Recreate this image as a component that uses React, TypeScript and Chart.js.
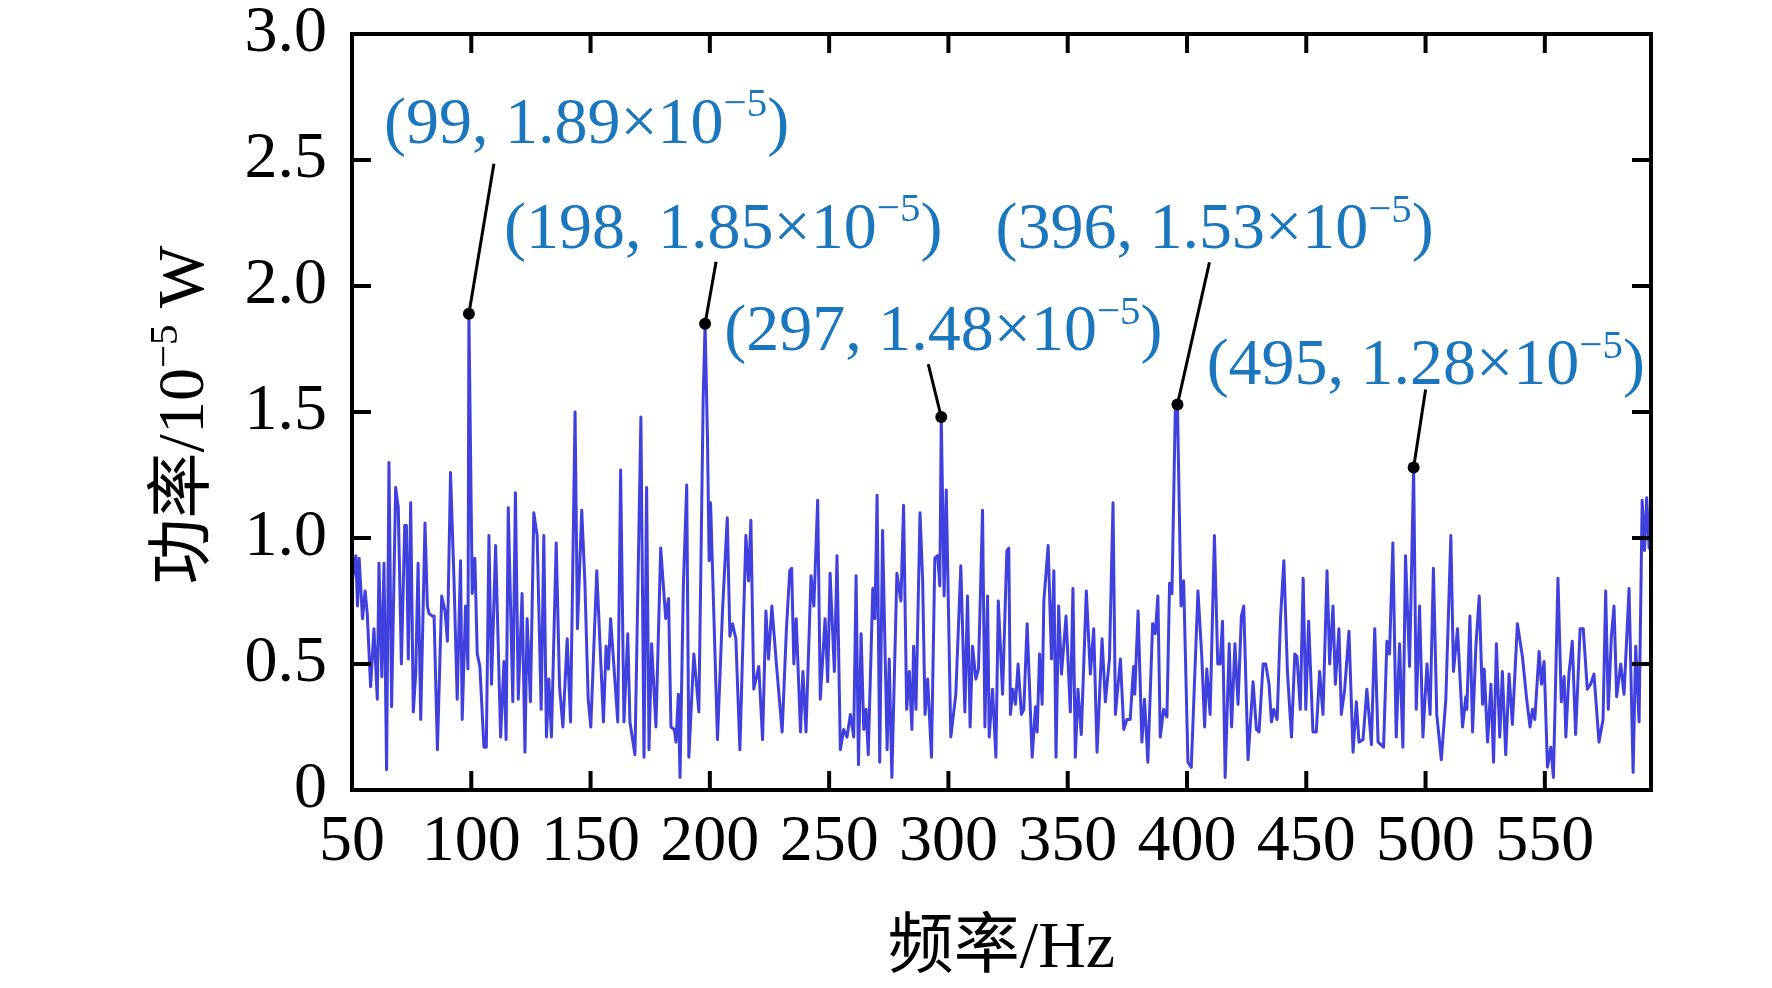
import { useEffect, useRef } from 'react';
import { Chart, registerables } from 'chart.js';

Chart.register(...registerables);

// ---- data ----
const freq = [
  50.3, 51.6, 52.3, 53.0, 54.4, 55.5, 56.4, 57.8, 59.2, 60.6, 61.3, 62.5, 63.4, 64.5, 65.5, 66.6, 68.3, 69.4, 70.7, 72.1,
  72.8, 73.6, 74.6, 75.7, 76.7, 77.7, 78.8, 80.6, 81.6, 82.3, 83.7, 84.4, 85.8, 87.6, 89.0, 90.0, 91.3, 92.7, 94.1, 95.5,
  96.2, 97.6, 98.6, 99.0, 100.4, 101.5, 102.5, 103.6, 105.3, 106.3, 107.4, 108.5, 110.2, 112.3, 113.7, 114.6, 115.5, 117.4, 118.5, 119.7,
  121.3, 122.5, 123.4, 124.8, 126.2, 127.6, 129.3, 130.4, 131.5, 132.5, 133.6, 135.6, 137.0, 138.4, 140.2, 141.6,
  143.5, 144.5, 146.3, 147.6, 149.0, 150.1, 152.6, 155.4, 156.5, 157.5, 158.4, 161.4, 162.6, 164.0, 165.6, 166.5, 168.6, 171.1,
  172.4, 173.5, 174.5, 175.6, 177.4, 179.4, 181.5, 182.7, 183.7, 185.1, 185.8, 186.8, 187.5, 188.9, 190.3, 191.2, 193.3, 195.4,
  197.2, 198.0, 199.0, 199.7, 200.3, 203.2, 205.3, 207.3, 208.4, 209.5, 210.9, 212.6, 215.1, 216.2, 217.2, 218.4, 220.5, 222.1,
  223.5, 224.6, 226.0, 227.9, 230.3, 232.1, 233.5,
  234.3, 235.2, 236.2, 238.0, 239.0, 240.3, 242.4, 243.6, 245.2, 246.3, 248.3, 249.4, 250.4, 252.2, 253.3, 254.7, 256.1, 257.5,
  258.9, 260.3, 261.3, 262.3, 263.4, 264.5, 265.5, 266.4, 268.3, 269.2, 270.1, 271.2, 272.4, 274.3, 275.2, 276.3, 278.4, 280.1,
  281.2, 282.5, 283.6, 284.7, 285.4, 286.4, 288.1, 289.2, 290.2, 291.3, 292.9, 294.3, 295.5, 296.4, 297.0, 298.2, 299.1, 301.0,
  303.1, 305.2, 306.9, 308.0, 309.1, 310.1, 311.5, 312.6, 314.3, 315.3, 316.4, 317.1, 318.5, 319.9, 320.9, 322.7, 324.5,
  325.3, 326.0, 327.0, 328.1, 329.2, 330.6, 331.6, 333.0, 335.1, 336.5, 337.2, 338.2, 339.3, 340.0, 341.8, 343.2, 344.2, 345.1,
  346.2, 347.4, 349.3, 351.1, 352.2, 353.2, 354.3, 355.7, 357.8, 359.5, 360.9, 362.3, 364.4, 365.8, 367.5, 369.0, 370.0, 372.1,
  373.5, 374.8, 376.2, 377.6, 378.1, 379.5, 381.1, 382.2, 383.6, 385.6, 386.7, 387.8, 388.8, 390.2, 391.6, 392.7, 393.7, 395.1,
  396.0, 397.5, 398.6, 400.4, 401.8, 404.6, 406.2, 407.4, 408.3, 409.7, 411.5, 412.9, 413.9, 414.9, 416.0,
  417.7, 418.7, 420.1, 421.4, 422.8, 423.8, 425.6, 427.7, 429.1, 430.2, 431.9, 433.0, 434.4, 435.4, 436.4, 437.8, 439.2, 440.6,
  442.1, 443.8, 445.2, 446.1, 447.5, 448.7, 449.8, 451.0, 452.8, 454.2, 455.6, 457.0, 458.7, 459.8, 461.2, 462.2, 463.7, 464.7,
  466.1, 467.9, 469.6, 471.0, 472.1, 473.8, 475.4, 477.3, 478.7, 480.1, 482.4, 483.8, 484.9, 486.3, 487.7, 489.1, 490.5, 491.6,
  493.3, 495.0, 496.1, 497.5, 498.9, 500.6, 501.9, 503.3, 504.7, 506.6,
  508.5, 510.6, 511.7, 513.4, 515.5, 516.9, 517.3, 518.6, 519.7, 521.1, 522.5, 523.9, 524.6, 526.0, 527.4, 528.5, 529.7, 531.1,
  532.2, 533.6, 535.0, 536.4, 538.5, 540.6, 542.4, 543.8, 544.8, 545.8, 547.6, 548.6, 549.7, 551.1, 552.5, 553.6, 555.5, 556.9,
  558.1, 558.8, 560.1, 561.5, 562.9, 564.8, 566.1, 567.8, 569.2, 570.6, 572.7, 574.4, 575.5, 576.6, 577.9, 579.0, 580.1, 581.8,
  583.2, 585.3, 587.0, 588.1, 589.5, 590.8, 591.8, 592.7, 593.7, 594.4,
];

const power = [
  0.84, 0.93, 0.73, 0.92, 0.68, 0.79, 0.70, 0.41, 0.64, 0.36, 0.90, 0.45, 0.90, 0.08, 1.30, 0.33, 1.20, 1.12, 0.50, 1.05,
  1.05, 0.52, 1.14, 0.31, 0.46, 0.90, 0.28, 1.06, 0.73, 0.70, 0.69, 0.69, 0.16, 0.77, 0.71, 0.59, 1.26, 0.85, 0.36, 0.91,
  0.28, 0.73, 0.48, 1.89, 0.78, 0.92, 0.54, 0.49, 0.17, 0.17, 1.01, 0.42, 0.97, 0.21, 0.51, 0.20, 1.12, 0.35, 1.18, 0.36,
  0.78, 0.15, 0.68, 0.35, 1.10, 1.01, 0.32, 1.01, 0.21, 0.44, 0.21, 0.98, 0.41, 0.25, 0.60, 0.27,
  1.50, 0.64, 1.11, 0.83, 0.36, 0.25, 0.87, 0.27, 0.57, 0.48, 0.68, 0.27, 1.27, 0.27, 0.62, 0.27, 0.14, 1.48,
  0.13, 1.20, 0.16, 0.58, 0.25, 0.96, 0.68, 0.76, 0.25, 0.24, 0.19, 0.38, 0.05, 0.81, 1.21, 0.13, 0.54, 0.31,
  1.55, 1.85, 1.40, 0.91, 1.14, 0.20, 0.71, 1.08, 0.61, 0.66, 0.60, 0.16, 1.01, 0.83, 1.07, 0.40, 0.49, 0.20,
  0.71, 0.52, 0.73, 0.50, 0.23, 0.64, 0.87,
  0.88, 0.50, 0.68, 0.23, 0.47, 0.23, 0.85, 0.73, 1.15, 0.36, 0.68, 0.43, 0.86, 0.47, 0.93, 0.16, 0.24, 0.21,
  0.30, 0.21, 0.85, 0.10, 0.62, 0.24, 0.32, 0.14, 0.80, 0.68, 1.17, 0.11, 1.03, 0.16, 0.52, 0.05, 0.86, 0.75,
  1.13, 0.32, 0.47, 0.24, 0.57, 0.32, 1.10, 0.83, 0.30, 0.44, 0.13, 0.92, 0.93, 0.81, 1.48, 0.77, 1.19, 0.21,
  0.38, 0.89, 0.31, 0.77, 0.25, 0.57, 0.44, 0.48, 1.11, 0.25, 0.77, 0.21, 0.40, 0.13, 0.75, 0.38, 0.95,
  0.96, 0.30, 0.40, 0.34, 0.50, 0.30, 0.32, 0.66, 0.13, 0.33, 0.23, 0.54, 0.34, 0.75, 0.97, 0.52, 0.87, 0.13,
  0.73, 0.46, 0.69, 0.31, 0.80, 0.13, 0.40, 0.22, 0.79, 0.46, 0.64, 0.15, 0.60, 0.35, 0.52, 1.14, 0.30, 0.52,
  0.24, 0.28, 0.28, 0.49, 0.38, 0.71, 0.19, 0.36, 0.11, 0.66, 0.62, 0.77, 0.21, 0.32, 0.29, 0.82, 0.78, 1.51,
  1.53, 0.73, 0.83, 0.11, 0.09, 0.79, 0.53, 0.25, 0.48, 0.30, 1.01, 0.50, 0.50, 0.67, 0.05,
  0.58, 0.25, 0.58, 0.34, 0.69, 0.73, 0.12, 0.43, 0.24, 0.23, 0.50, 0.50, 0.42, 0.27, 0.32, 0.28, 0.68, 0.91,
  0.47, 0.21, 0.54, 0.53, 0.32, 0.84, 0.32, 0.67, 0.23, 0.23, 0.47, 0.30, 0.87, 0.50, 0.73, 0.42, 0.64, 0.30,
  0.40, 0.63, 0.15, 0.35, 0.19, 0.20, 0.40, 0.18, 0.64, 0.19, 0.17, 0.59, 0.54, 0.98, 0.21, 0.58, 0.17, 0.93,
  0.49, 1.28, 0.32, 0.73, 0.21, 0.50, 0.30, 0.88, 0.30, 0.12,
  0.36, 1.01, 0.47, 0.64, 0.25, 0.37, 0.32, 0.69, 0.23, 0.57, 0.77, 0.34, 0.48, 0.19, 0.42, 0.11, 0.58, 0.21,
  0.47, 0.14, 0.46, 0.26, 0.66, 0.53, 0.36, 0.25, 0.32, 0.28, 0.55, 0.42, 0.51, 0.09, 0.17, 0.05, 0.84, 0.35,
  0.45, 0.21, 0.46, 0.59, 0.22, 0.64, 0.64, 0.40, 0.42, 0.46, 0.19, 0.28, 0.79, 0.32, 0.61, 0.73, 0.37, 0.50,
  0.38, 0.80, 0.07, 0.57, 0.27, 1.15, 0.95, 1.16, 0.96, 1.12,
];

const xTicks = [50, 100, 150, 200, 250, 300, 350, 400, 450, 500, 550];
const yTicks = [0, 0.5, 1.0, 1.5, 2.0, 2.5, 3.0];

const peakFreq = [99, 198, 297, 396, 495];
const peakPower = [1.89, 1.85, 1.48, 1.53, 1.28];

const xTitle = '频率/Hz';
const yTitleHead = '功率/10';
const yTitleSup = '−5';
const yTitleTail = ' W';
const peakExp = '−5';

// ---- styling / layout (not data) ----
const SERIF = "'Liberation Serif', 'Times New Roman', 'Noto Sans CJK SC', serif";
const FS = 66;
const LABEL_BLUE = '#1a76bd';
// label placement relative to the marked point (px): text left/baseline, leader end
const labelOffset = [
  { tx: -85, ty: -171, lx: 25, ly: -150 },
  { tx: -201, ty: -76, lx: 11, ly: -62 },
  { tx: -217, ty: -67, lx: -13, ly: -53 },
  { tx: -182, ty: -156, lx: 32, ly: -142 },
  { tx: -207, ty: -83, lx: 12, ly: -78 },
];

type Part = { t: string; sup?: boolean };

function measureRich(ctx: CanvasRenderingContext2D, parts: Part[], size: number) {
  let w = 0;
  for (const p of parts) {
    ctx.font = `${p.sup ? Math.round(size * 0.62) : size}px ${SERIF}`;
    w += ctx.measureText(p.t).width;
  }
  return w;
}

function drawRich(ctx: CanvasRenderingContext2D, parts: Part[], x: number, y: number, size: number) {
  let cx = x;
  for (const p of parts) {
    const s = p.sup ? Math.round(size * 0.62) : size;
    ctx.font = `${s}px ${SERIF}`;
    ctx.fillText(p.t, cx, p.sup ? y - size * 0.4 : y);
    cx += ctx.measureText(p.t).width;
  }
}

const overlay = {
  id: 'overlay',
  afterDatasetsDraw(chart: any) {
    const { ctx, chartArea: a, scales } = chart;
    const xs = scales.x;
    const ys = scales.y;
    ctx.save();
    ctx.strokeStyle = '#000';
    ctx.lineWidth = 4;
    ctx.lineCap = 'butt';
    const tl = 19;
    const seg = (x1: number, y1: number, x2: number, y2: number) => {
      ctx.beginPath();
      ctx.moveTo(x1, y1);
      ctx.lineTo(x2, y2);
      ctx.stroke();
    };
    for (const v of xTicks) {
      const px = xs.getPixelForValue(v);
      if (px <= a.left + 2 || px >= a.right - 2) continue;
      seg(px, a.bottom, px, a.bottom - tl);
      seg(px, a.top, px, a.top + tl);
    }
    for (const v of yTicks) {
      const py = ys.getPixelForValue(v);
      if (py >= a.bottom - 2 || py <= a.top + 2) continue;
      seg(a.left, py, a.left + tl, py);
      seg(a.right, py, a.right - tl, py);
    }
    ctx.strokeRect(a.left, a.top, a.right - a.left, a.bottom - a.top);

    // peak annotations
    ctx.textBaseline = 'alphabetic';
    ctx.textAlign = 'left';
    peakFreq.forEach((f, i) => {
      const px = xs.getPixelForValue(f);
      const py = ys.getPixelForValue(peakPower[i]);
      const o = labelOffset[i];
      ctx.strokeStyle = '#000';
      ctx.lineWidth = 3;
      seg(px, py, px + o.lx, py + o.ly);
      ctx.fillStyle = '#000';
      ctx.beginPath();
      ctx.arc(px, py, 6, 0, Math.PI * 2);
      ctx.fill();
      ctx.fillStyle = LABEL_BLUE;
      drawRich(
        ctx,
        [
          { t: `(${f}, ${peakPower[i].toFixed(2)}×10` },
          { t: peakExp, sup: true },
          { t: ')' },
        ],
        px + o.tx,
        py + o.ty,
        FS
      );
    });
    ctx.restore();
  },
  afterDraw(chart: any) {
    const { ctx, chartArea: a } = chart;
    ctx.save();
    ctx.fillStyle = '#000';
    // x title
    ctx.font = `${FS}px ${SERIF}`;
    ctx.textAlign = 'center';
    ctx.textBaseline = 'middle';
    ctx.fillText(xTitle, (a.left + a.right) / 2, 950);
    // y title (rotated)
    const parts: Part[] = [{ t: yTitleHead }, { t: yTitleSup, sup: true }, { t: yTitleTail }];
    const w = measureRich(ctx, parts, FS);
    ctx.translate(181, (a.top + a.bottom) / 2 + 3);
    ctx.rotate(-Math.PI / 2);
    ctx.textAlign = 'left';
    ctx.textBaseline = 'alphabetic';
    drawRich(ctx, parts, -w / 2, 22, FS);
    ctx.restore();
  },
};

export default function App() {
  const ref = useRef<HTMLCanvasElement | null>(null);
  useEffect(() => {
    if (!ref.current) return;
    const chart = new Chart(ref.current, {
      type: 'line',
      data: {
        datasets: [
          {
            data: freq.map((f, i) => ({ x: f, y: power[i] })),
            borderColor: 'rgba(38,38,218,0.88)',
            borderWidth: 3,
            borderJoinStyle: 'round',
            pointRadius: 0,
            tension: 0,
            fill: false,
          },
        ],
      },
      options: {
        animation: false,
        responsive: true,
        maintainAspectRatio: false,
        layout: { padding: { top: 34, right: 121, left: 0, bottom: 0 } },
        plugins: { legend: { display: false }, tooltip: { enabled: false }, title: { display: false } },
        scales: {
          x: {
            type: 'linear',
            min: 50,
            max: 594.5,
            afterBuildTicks: (s: any) => {
              s.ticks = xTicks.map((v) => ({ value: v }));
            },
            afterFit: (s: any) => {
              s.height = 198;
              s.paddingLeft = 0;
              s.paddingRight = 0;
            },
            grid: { display: false, drawTicks: false },
            border: { display: false },
            ticks: {
              color: '#000',
              font: { family: SERIF, size: FS },
              padding: 13,
              maxRotation: 0,
              autoSkip: false,
              callback: (v: any) => String(v),
            },
          },
          y: {
            type: 'linear',
            min: 0,
            max: 3,
            afterBuildTicks: (s: any) => {
              s.ticks = yTicks.map((v) => ({ value: v }));
            },
            afterFit: (s: any) => {
              s.width = 352;
              s.paddingTop = 0;
              s.paddingBottom = 0;
            },
            grid: { display: false, drawTicks: false },
            border: { display: false },
            ticks: {
              color: '#000',
              font: { family: SERIF, size: FS },
              padding: 25,
              callback: (v: any) => (Number(v) === 0 ? '0' : Number(v).toFixed(1)),
            },
          },
        },
      },
      plugins: [overlay],
    });
    return () => chart.destroy();
  }, []);
  return (
    <div style={{ position: 'fixed', left: 0, top: 0, width: 1772, height: 988, background: '#fff' }}>
      <canvas ref={ref} />
    </div>
  );
}
